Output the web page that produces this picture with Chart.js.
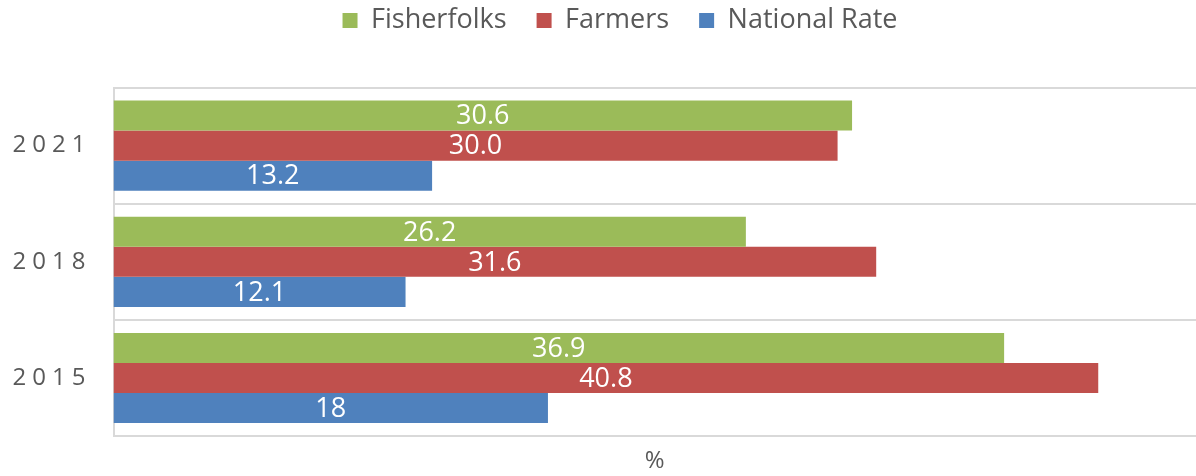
<!DOCTYPE html>
<html>
<head>
<meta charset="utf-8">
<script src="https://cdn.jsdelivr.net/npm/chart.js@4/dist/chart.umd.min.js"></script>
<style>
  html, body { margin: 0; padding: 0; background: #fff; }
  #chartContainer { width: 1196px; height: 476px; }
</style>
</head>
<body>
<div id="chartContainer"><canvas id="povertyChart"></canvas></div>
<script>
const years = ['2021', '2018', '2015']
const fisherfolks = [30.6, 26.2, 36.9]
const farmers = [30.0, 31.6, 40.8]
const nationalRate = [13.2, 12.1, 18]
const fisherfolksText = ['30.6', '26.2', '36.9']
const farmersText = ['30.0', '31.6', '40.8']
const nationalRateText = ['13.2', '12.1', '18']

const fontFamily = '"Open Sans", "Noto Sans", sans-serif'
const grayText = '#595959'
const gridGray = '#d9d9d9'

// white value text in the middle of each bar
const barValueLabels = {
  id: 'barValueLabels',
  afterDatasetsDraw(chart) {
    const ctx = chart.ctx
    ctx.save()
    ctx.font = `27px ${fontFamily}`
    ctx.fillStyle = '#ffffff'
    ctx.textAlign = 'center'
    ctx.textBaseline = 'middle'
    chart.data.datasets.forEach((dataset, di) => {
      const meta = chart.getDatasetMeta(di)
      if (meta.hidden) return
      meta.data.forEach((bar, i) => {
        ctx.fillText(dataset.valueText[i], (bar.x + bar.base) / 2, bar.y + 1)
      })
    })
    ctx.restore()
  },
}

// year labels with wide letter spacing
const spacedYearLabels = {
  id: 'spacedYearLabels',
  afterDraw(chart) {
    const ctx = chart.ctx
    const yScale = chart.scales.y
    ctx.save()
    ctx.font = `24px ${fontFamily}`
    ctx.fillStyle = grayText
    ctx.textAlign = 'right'
    ctx.textBaseline = 'middle'
    ctx.letterSpacing = '6px'
    yScale.ticks.forEach((tick, i) => {
      ctx.fillText(chart.data.labels[i], chart.chartArea.left - 22, yScale.getPixelForTick(i))
    })
    ctx.restore()
  },
}

// nudge the legend a bit to the right, like the original
const legendShift = {
  id: 'legendShift',
  afterLayout(chart) {
    if (!chart.legend) return
    chart.legend.left += 22
    chart.legend.right += 22
  },
}

const chart = new Chart(document.getElementById('povertyChart').getContext('2d'), {
  type: 'bar',
  data: {
    labels: years,
    datasets: [
      { label: 'Fisherfolks', data: fisherfolks, valueText: fisherfolksText, backgroundColor: '#9bbb59' },
      { label: 'Farmers', data: farmers, valueText: farmersText, backgroundColor: '#c0504d' },
      { label: 'National Rate', data: nationalRate, valueText: nationalRateText, backgroundColor: '#4f81bd' },
    ],
  },
  options: {
    indexAxis: 'y',
    responsive: true,
    maintainAspectRatio: false,
    animation: false,
    categoryPercentage: 0.775,
    barPercentage: 1.0,
    layout: {
      padding: { top: -23, left: 0, right: 0, bottom: 0 },
    },
    scales: {
      x: {
        min: 0,
        max: 44.85,
        grid: { display: false },
        border: { display: false },
        ticks: { display: false },
        title: {
          display: true,
          text: '%',
          color: grayText,
          font: { family: fontFamily, size: 24 },
          padding: { top: 3, bottom: 0 },
        },
      },
      y: {
        grid: { color: gridGray, lineWidth: 2, drawTicks: false },
        border: { display: true, color: gridGray, width: 2 },
        ticks: { display: false },
        afterFit: scale => { scale.width = 113.5 },
      },
    },
    plugins: {
      legend: {
        position: 'top',
        weight: 2000,
        labels: {
          boxWidth: 15,
          boxHeight: 15,
          padding: 30,
          color: grayText,
          font: { family: fontFamily, size: 27 },
        },
      },
      subtitle: {
        display: true,
        text: '',
        position: 'top',
        weight: 1500,
        font: { size: 10, lineHeight: 1 },
        padding: { top: 0, bottom: 33.5 },
      },
      tooltip: { enabled: false },
    },
  },
  plugins: [barValueLabels, spacedYearLabels, legendShift],
})
</script>
</body>
</html>
